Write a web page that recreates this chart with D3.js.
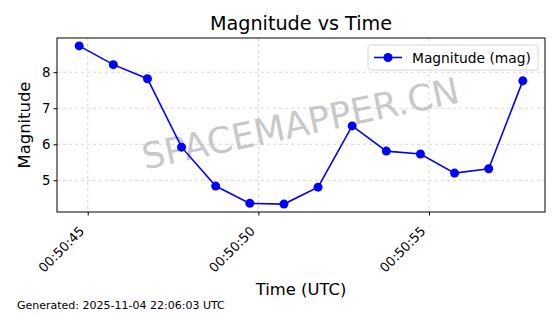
<!DOCTYPE html>
<html><head><meta charset="utf-8">
<script src="https://cdn.jsdelivr.net/npm/d3@7"></script>
<style>body{margin:0;background:#fff}svg{display:block;font-family:"DejaVu Sans",sans-serif}</style>
</head><body><svg id="c" width="560" height="314"></svg>
<script>
const times = ["00:50:44.75","00:50:45.75","00:50:46.75","00:50:47.75","00:50:48.75","00:50:49.75","00:50:50.75","00:50:51.75","00:50:52.75","00:50:53.75","00:50:54.75","00:50:55.75","00:50:56.75","00:50:57.75"];
const magnitudes = [8.73,8.21,7.82,5.92,4.84,4.36,4.34,4.81,6.51,5.81,5.73,5.20,5.32,7.76];
const xTickLabels = ["00:50:45","00:50:50","00:50:55"];
const yTickValues = [5,6,7,8];

const toSec = s => { const [h,m,sec] = s.split(":"); return (+h)*3600 + (+m)*60 + (+sec); };
const data = times.map((t,i)=>({t:toSec(t), v:magnitudes[i]}));

const svg = d3.select("#c");
const L=57, R=545, T=38, B=212;
const tExt = d3.extent(data,d=>d.t), tPad=(tExt[1]-tExt[0])*0.05;
const vExt = d3.extent(data,d=>d.v), vPad=(vExt[1]-vExt[0])*0.05;
const x = d3.scaleLinear().domain([tExt[0]-tPad, tExt[1]+tPad]).range([L,R]);
const y = d3.scaleLinear().domain([vExt[0]-vPad, vExt[1]+vPad]).range([B,T]);
const xTicks = xTickLabels.map(toSec);

// grid
const g = svg.append("g");
g.selectAll(".gx").data(xTicks).join("line").attr("x1",d=>x(d)).attr("x2",d=>x(d)).attr("y1",T).attr("y2",B)
 .attr("stroke","#cccccc").attr("stroke-width",0.8).attr("stroke-dasharray","3,3");
g.selectAll(".gy").data(yTickValues).join("line").attr("y1",d=>y(d)).attr("y2",d=>y(d)).attr("x1",L).attr("x2",R)
 .attr("stroke","#cccccc").attr("stroke-width",0.8).attr("stroke-dasharray","3,3");

// watermark
svg.append("text").attr("x",301).attr("y",126).attr("text-anchor","middle").attr("dominant-baseline","middle")
 .attr("transform","rotate(-12,301,126)").attr("font-size",36).attr("fill","#b0b0b0").attr("fill-opacity",0.7)
 .text("SPACEMAPPER.CN");

// line + markers
svg.append("path").datum(data).attr("fill","none").attr("stroke","#0000ff").attr("stroke-width",1.6)
 .attr("d",d3.line().x(d=>x(d.t)).y(d=>y(d.v)));
svg.selectAll(".pt").data(data).join("circle").attr("cx",d=>x(d.t)).attr("cy",d=>y(d.v)).attr("r",4.5).attr("fill","#0000ff");

// frame
svg.append("rect").attr("x",L).attr("y",T).attr("width",R-L).attr("height",B-T).attr("fill","none").attr("stroke","#000").attr("stroke-width",1);

// axes
const xa = svg.append("g").attr("transform",`translate(0,${B})`)
 .call(d3.axisBottom(x).tickValues(xTicks).tickSize(3.5).tickFormat((d,i)=>xTickLabels[i]));
xa.select(".domain").remove();
xa.selectAll("text").attr("font-size",13).attr("font-family","DejaVu Sans").attr("fill","#000")
 .attr("text-anchor","end").attr("dy",0).attr("y",0)
 .attr("transform","translate(-3,20) rotate(-45)");
const ya = svg.append("g").attr("transform",`translate(${L},0)`)
 .call(d3.axisLeft(y).tickValues(yTickValues).tickSize(3.5).tickFormat(d3.format("d")));
ya.select(".domain").remove();
ya.selectAll("text").attr("font-size",13.3).attr("font-family","DejaVu Sans").attr("fill","#000");

// titles
svg.append("text").attr("x",(L+R)/2).attr("y",30).attr("text-anchor","middle").attr("font-size",19.2).text("Magnitude vs Time");
svg.append("text").attr("x",(L+R)/2).attr("y",295).attr("text-anchor","middle").attr("font-size",16.4).text("Time (UTC)");
svg.append("text").attr("transform",`translate(30,${(T+B)/2}) rotate(-90)`).attr("text-anchor","middle").attr("font-size",16.4).text("Magnitude");
svg.append("text").attr("x",17).attr("y",309).attr("font-size",11).text("Generated: 2025-11-04 22:06:03 UTC");

// legend
const lg = svg.append("g");
lg.append("rect").attr("x",368).attr("y",45).attr("width",170).attr("height",25).attr("rx",2.5)
 .attr("fill","#fff").attr("fill-opacity",0.8).attr("stroke","#d5d5d5");
lg.append("line").attr("x1",374).attr("x2",402).attr("y1",57.5).attr("y2",57.5).attr("stroke","#0000ff").attr("stroke-width",1.6);
lg.append("circle").attr("cx",388).attr("cy",57.5).attr("r",4.5).attr("fill","#0000ff");
lg.append("text").attr("x",412).attr("y",62.5).attr("font-size",13.8).text("Magnitude (mag)");
</script></body></html>
